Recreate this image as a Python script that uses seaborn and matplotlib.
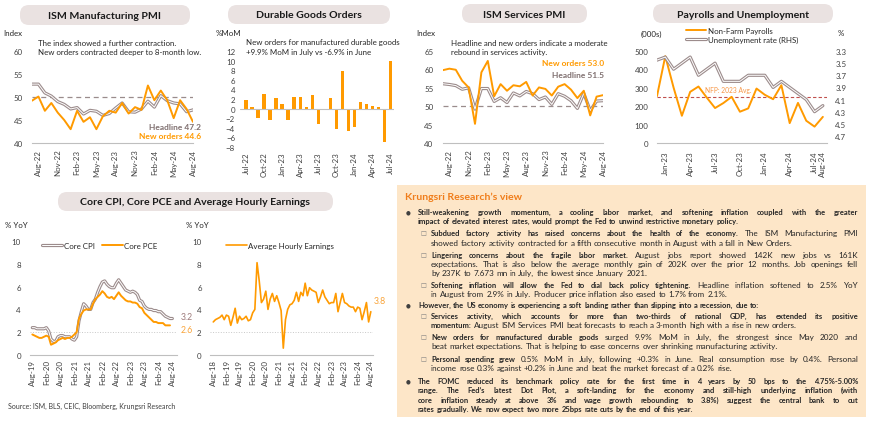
import matplotlib
matplotlib.use("Agg")
import matplotlib.pyplot as plt
import matplotlib.patheffects as pe
from matplotlib.patches import FancyBboxPatch, Rectangle
from matplotlib.font_manager import FontProperties
import numpy as np
import pandas as pd
import seaborn as sns

sns.set_theme(style="white")
plt.rcParams["font.family"] = ["Lato", "DejaVu Sans"]

# %% data
pmi_months = pd.date_range("2022-07-01", "2024-08-01", freq="MS").strftime("%b-%y").tolist()
mfg_headline = [52.8, 52.8, 50.9, 50.2, 49.0, 48.4, 47.4, 47.7, 46.3, 47.1, 46.9, 46.0, 46.4,
                47.6, 48.7, 46.8, 46.7, 47.4, 49.1, 47.8, 50.3, 49.2, 48.7, 48.5, 46.8, 47.2]
mfg_new_orders = [49.2, 50.1, 47.0, 48.7, 46.6, 45.0, 43.0, 47.0, 44.6, 45.6, 43.0, 45.8, 47.0,
                  46.6, 48.7, 46.4, 47.8, 47.2, 52.5, 49.3, 51.4, 49.3, 45.4, 49.3, 47.4, 44.6]

durable_months = pd.date_range("2022-07-01", "2024-07-01", freq="MS").strftime("%b-%y").tolist()
durable_mom = [1.7, 0.4, -1.9, 3.0, -2.4, 2.2, 1.0, -2.4, 2.5, 2.4, 0.4, 2.8, -3.2,
               -0.35, 2.2, -4.2, 7.9, -4.6, -3.9, 1.4, 1.0, 0.5, 0.35, -6.9, 9.9]

svc_new_orders = [59.8, 60.2, 59.9, 56.9, 55.1, 45.2, 59.2, 62.3, 52.7, 56.0, 54.2, 55.7, 55.4,
                  56.6, 52.9, 55.1, 54.7, 52.9, 55.3, 56.0, 54.5, 52.2, 54.2, 47.5, 52.6, 53.0]
svc_headline = [56.1, 55.9, 55.6, 54.6, 55.0, 49.2, 54.8, 54.8, 51.3, 52.3, 51.0, 53.6, 52.8,
                54.0, 53.4, 51.8, 52.5, 50.5, 53.4, 52.7, 51.5, 49.4, 53.5, 48.8, 51.4, 51.5]

nfp_months = pd.date_range("2022-12-01", "2024-08-01", freq="MS").strftime("%b-%y").tolist()
nfp = [255, 472, 301, 148, 278, 307, 247, 190, 217, 251, 170, 188, 296, 262, 238, 314,
       108, 218, 121, 89, 142]
unemployment = [3.45, 3.4, 3.6, 3.5, 3.4, 3.7, 3.6, 3.5, 3.8, 3.8, 3.8, 3.7, 3.7, 3.7,
                3.9, 3.8, 3.9, 4.0, 4.1, 4.3, 4.2]
nfp_avg_2023 = 251

core_months = pd.date_range("2019-08-01", "2024-08-01", freq="MS").strftime("%b-%y").tolist()
core_cpi = [2.4, 2.4, 2.3, 2.3, 2.3,
            2.3, 2.4, 2.1, 1.4, 1.2, 1.2, 1.6, 1.7, 1.7, 1.6, 1.6, 1.6,
            1.4, 1.3, 1.6, 3.0, 3.8, 4.5, 4.3, 4.0, 4.0, 4.6, 4.9, 5.5,
            6.0, 6.4, 6.5, 6.2, 6.0, 5.9, 5.9, 6.3, 6.6, 6.3, 6.0, 5.7,
            5.6, 5.5, 5.6, 5.5, 5.3, 4.8, 4.7, 4.3, 4.1, 4.0, 4.0, 3.9,
            3.9, 3.8, 3.8, 3.6, 3.4, 3.3, 3.2, 3.2]
core_pce = [1.8, 1.7, 1.6, 1.5, 1.5,
            1.6, 1.7, 1.6, 0.9, 1.0, 1.1, 1.3, 1.4, 1.5, 1.4, 1.5, 1.5,
            1.6, 1.8, 2.0, 3.2, 3.6, 3.9, 4.0, 4.0, 4.0, 4.5, 4.9, 5.1,
            5.3, 5.6, 5.4, 5.1, 5.0, 5.1, 4.9, 5.2, 5.5, 5.2, 5.0, 4.8,
            4.7, 4.7, 4.6, 4.6, 4.5, 4.2, 4.1, 3.7, 3.5, 3.3, 3.1, 2.9,
            2.9, 2.8, 2.8, 2.8, 2.6, 2.6, 2.6]

ahe_months = pd.date_range("2018-08-01", "2024-08-01", freq="MS").strftime("%b-%y").tolist()
ahe = [2.9, 3.1, 3.2, 3.3, 3.5,
       3.1, 3.5, 3.4, 2.6, 3.3, 4.1, 2.8, 3.4, 3.1, 3.2, 3.4, 3.0,
       3.1, 3.7, 4.0, 8.1, 6.5, 4.6, 4.9, 5.6, 4.0, 4.9, 5.4, 4.7,
       5.2, 4.6, 3.9, 0.6, 3.1, 4.0, 4.4, 4.5, 4.8, 5.5, 4.7, 5.5,
       5.2, 6.3, 5.2, 5.9, 5.7, 5.6, 5.5, 4.6, 5.1, 5.7, 5.1, 4.8,
       4.5, 4.6, 4.6, 5.4, 3.8, 4.6, 5.4, 4.6, 4.5, 4.3, 4.2, 4.2,
       3.8, 4.2, 4.1, 3.1, 3.8, 4.6, 2.9, 3.8]

# %% colours / helpers
W, H = 870, 431
ORANGE = "#FF9A00"
GREY = "#9C8C8C"
GREY_TXT = "#7F6F6F"
AX_GREY = "#BFBFBF"
TXT = "#262626"
PILL = "#EAE2E1"
BOX = "#FDE6C8"

fig = plt.figure(figsize=(8.7, 4.31), dpi=100)
bg = fig.add_axes([0, 0, 1, 1])
bg.set_xlim(0, W)
bg.set_ylim(H, 0)
bg.axis("off")
renderer = fig.canvas.get_renderer()


def width_of(text, size, weight="normal"):
    t = bg.text(0, 0, text, fontsize=size, fontweight=weight, family="Lato")
    w = t.get_window_extent(renderer).width
    t.remove()
    return w


def fit(text, width, weight="normal"):
    # font size that makes `text` about `width` pixels wide
    return 10 * width / width_of(text, 10, weight)


TICK = fit("Aug-22", 26)
NOTE = fit("The index showed a further contraction.", 138)
NOTE_B = fit("New orders 44.6", 63, "bold")
TITLE = fit("ISM Manufacturing PMI", 112, "bold")
BODY = fit("showed factory activity contracted for a fifth consecutive month in August with a fall in New Orders.", 362)
BODY_B = fit("impact of elevated interest rates, would prompt the Fed to unwind restrictive monetary policy.", 314, "bold")


def add_ax(l, t, r, b):
    ax = fig.add_axes([l / W, 1 - b / H, (r - l) / W, (b - t) / H])
    ax.set_facecolor("none")
    for s in ["top", "right", "left"]:
        ax.spines[s].set_visible(False)
    ax.spines["bottom"].set_color(AX_GREY)
    ax.spines["bottom"].set_linewidth(0.8)
    ax.tick_params(axis="both", length=0, labelsize=TICK, colors="#404040")
    return ax


def grey_line(ax, x, y):
    sns.lineplot(x=x, y=y, ax=ax, color="white", lw=0.7, legend=False,
                 path_effects=[pe.Stroke(linewidth=2.3, foreground=GREY), pe.Normal()])
    return ax.lines[-1]


def orange_line(ax, x, y, lw=1.4):
    sns.lineplot(x=x, y=y, ax=ax, color=ORANGE, lw=lw, legend=False)
    return ax.lines[-1]


def pill(x0, x1, y0, y1, text):
    bg.add_patch(FancyBboxPatch((x0, y0), x1 - x0, y1 - y0,
                                boxstyle="round,pad=0,rounding_size=9",
                                fc=PILL, ec="none"))
    bg.text((x0 + x1) / 2, (y0 + y1) / 2 + 0.5, text, ha="center", va="center",
            fontsize=TITLE, fontweight="bold", color="#1A1A1A")


def note(x, y, text, **kw):
    kw.setdefault("fontsize", NOTE)
    kw.setdefault("color", TXT)
    bg.text(x, y, text, va="center", **kw)


def month_ticks(ax, labels, pos, pad=4):
    ax.set_xticks(pos)
    ax.set_xticklabels([labels[p] for p in pos], rotation=90)
    ax.tick_params(axis="x", pad=pad)


# %% ISM Manufacturing PMI
pill(20, 190, 6, 26, "ISM Manufacturing PMI")
ax1 = add_ax(32, 52, 193, 144)
x = np.arange(len(pmi_months))
ax1.axhline(50, color="#9A8C8C", ls=(0, (4, 3)), lw=0.9)
grey_line(ax1, x, mfg_headline)
orange_line(ax1, x, mfg_new_orders)
ax1.set(xlim=(0, 25), ylim=(40, 60), xlabel="", ylabel="")
ax1.set_yticks([40, 45, 50, 55, 60])
ax1.tick_params(axis="y", pad=6.5)
month_ticks(ax1, pmi_months, range(1, 26, 3))
note(3, 34, "Index", fontsize=TICK)
note(38, 43, "The index showed a further contraction.")
note(38, 52, "New orders contracted deeper to 8-month low.")
note(201, 128, "Headline 47.2", fontsize=NOTE_B, fontweight="bold", ha="right", color=GREY_TXT)
note(201, 137, "New orders 44.6", fontsize=NOTE_B, fontweight="bold", ha="right", color=ORANGE)

# %% Durable goods
pill(228, 390, 6, 25, "Durable Goods Orders")
ax2 = add_ax(240, 52, 394, 148)
ax2.spines["bottom"].set_visible(False)
sns.barplot(x=durable_months, y=durable_mom, ax=ax2, color=ORANGE, saturation=1,
            width=0.55, linewidth=0)
ax2.axhline(0, color=AX_GREY, lw=0.8)
ax2.set(xlim=(-1, 24.6), ylim=(-8, 12), xlabel="", ylabel="")
ax2.set_yticks(range(-8, 13, 2))
ax2.tick_params(axis="y", pad=3.5)
month_ticks(ax2, durable_months, range(0, 25, 3), pad=3)
note(216, 34, "%MoM", fontsize=TICK)
note(246, 43, "New orders for manufactured durable goods")
note(246, 52, "+9.9% MoM in July vs -6.9% in June")

# %% ISM Services PMI
pill(462, 587, 5, 24, "ISM Services PMI")
ax3 = add_ax(443, 52, 603, 144)
ax3.axhline(50, color="#9A8C8C", ls=(0, (4, 3)), lw=0.9)
grey_line(ax3, x, svc_headline)
orange_line(ax3, x, svc_new_orders)
ax3.set(xlim=(0, 25), ylim=(40, 65), xlabel="", ylabel="")
ax3.set_yticks(range(40, 66, 5))
ax3.tick_params(axis="y", pad=7)
month_ticks(ax3, pmi_months, range(1, 26, 3))
note(416, 34, "Index", fontsize=TICK)
note(451, 43, "Headline and new orders indicate a moderate")
note(451, 52, "rebound in services activity.")
note(604, 64, "New orders 53.0", fontsize=NOTE_B, fontweight="bold", ha="right", color=ORANGE)
note(604, 75, "Headline 51.5", fontsize=NOTE_B, fontweight="bold", ha="right", color=GREY_TXT)

# %% Payrolls and unemployment
pill(653, 833, 5, 24, "Payrolls and Unemployment")
ax4 = add_ax(657, 52, 827, 144)
xn = np.arange(len(nfp_months))
ax4.axhline(nfp_avg_2023, color="#C0504D", ls=(0, (3, 2)), lw=0.8)
nfp_line = orange_line(ax4, xn, nfp)
ax4.set(xlim=(0, 20.5), ylim=(0, 500), xlabel="", ylabel="")
ax4.set_yticks(range(0, 501, 100))
ax4.tick_params(axis="y", pad=6)
month_ticks(ax4, nfp_months, list(range(1, 21, 3)) + [20], pad=5)
ax4r = ax4.twinx()
ax4r.set_facecolor("none")
for s in ax4r.spines.values():
    s.set_visible(False)
ur_line = grey_line(ax4r, xn, unemployment)
ax4r.set(ylim=(4.816, 3.3), ylabel="")
ur_ticks = np.arange(3.3, 4.71, 0.2)
ax4r.set_yticks(ur_ticks)
ax4r.set_yticklabels([f"{v:.1f}" for v in ur_ticks])
ax4r.tick_params(axis="y", length=0, labelsize=TICK, colors="#404040", pad=6)
note(641, 34, "(000s)", fontsize=TICK)
note(838, 34, "%", fontsize=TICK)
note(705, 90, "NFP: 2023 Avg.", fontsize=NOTE * 0.85, color="#F79646")
bg.legend([nfp_line, ur_line], ["Non-Farm Payrolls", "Unemployment rate (RHS)"],
          loc="upper left", bbox_to_anchor=(686, 28), bbox_transform=bg.transData,
          frameon=False, fontsize=NOTE, handlelength=2.6, handletextpad=0.2,
          labelspacing=0.25, borderaxespad=0, borderpad=0)

# %% Core CPI / PCE
pill(58, 333, 193, 212, "Core CPI, Core PCE and Average Hourly Earnings")
ax5 = add_ax(30, 242, 177, 356)
xc = np.arange(len(core_months))
ax5.axhline(2, color="#C8C8C8", ls=":", lw=0.7)
cpi_line = grey_line(ax5, xc, core_cpi)
pce_line = orange_line(ax5, xc[:len(core_pce)], core_pce)
ax5.set(xlim=(-1, 62), ylim=(0, 10), xlabel="", ylabel="")
ax5.set_yticks(range(0, 11, 2))
ax5.tick_params(axis="y", pad=6.5)
month_ticks(ax5, core_months, range(0, 61, 6), pad=3)
ax5.legend([cpi_line, pce_line], ["Core CPI", "Core PCE"], ncol=2, loc="upper left",
           bbox_to_anchor=(0.08, 0.99), frameon=False, fontsize=NOTE, handlelength=2.6,
           handletextpad=0.2, columnspacing=1.0, borderaxespad=0, borderpad=0)
note(5, 226, "% YoY", fontsize=TICK)
note(181, 318, "3.2", fontsize=TICK * 1.1, color="#9E7B7B")
note(181, 331, "2.6", fontsize=TICK * 1.1, color="#F9A43A")

# %% Average hourly earnings
ax6 = add_ax(210, 242, 373, 356)
xa = np.arange(len(ahe_months))
ax6.axhline(2, color="#C8C8C8", ls=":", lw=0.7)
ahe_line = orange_line(ax6, xa, ahe, lw=1.2)
ax6.set(xlim=(-1.5, 73), ylim=(0, 10), xlabel="", ylabel="")
ax6.set_yticks(range(0, 11, 2))
ax6.tick_params(axis="y", pad=6)
month_ticks(ax6, ahe_months, range(0, 73, 6), pad=3)
ax6.legend([ahe_line], ["Average Hourly Earnings"], loc="upper left",
           bbox_to_anchor=(0.1, 0.99), frameon=False, fontsize=NOTE, handlelength=2.6,
           handletextpad=0.2, borderaxespad=0, borderpad=0)
note(186, 226, "% YoY", fontsize=TICK)
note(374, 302, "3.8", fontsize=TICK * 1.1, color="#F9A43A")

note(8, 406, "Source: ISM, BLS, CEIC, Bloomberg, Krungsri Research",
     fontsize=fit("Source: ISM, BLS, CEIC, Bloomberg, Krungsri Research", 166), color="#404040")

# %% Krungsri Research's view box
bg.add_patch(Rectangle((397, 186), 469, 232, fc=BOX, ec="none", zorder=0))
note(405, 197, "Krungsri Research\u2019s view", fontweight="bold", color="#F07D1A",
     fontsize=fit("Krungsri Research\u2019s view", 117, "bold"))

RIGHT = 858


def pixel_fix(word, size, weight):
    # Agg puts each word's bitmap on whole pixels from its ink box, which makes
    # words with commas or descenders jump a pixel; work out the shift to undo it
    try:
        from matplotlib.backends.backend_agg import get_hinting_flag
        font = renderer._prepare_font(FontProperties(family="Lato", size=size, weight=weight))
        font.set_text(word, 0, flags=get_hinting_flag())
        hh = font.get_width_height()[1] / 64
        d = font.get_descent() / 64
        return np.floor(hh) - np.trunc(hh - d) - d
    except Exception:
        return 0.0


def put_line(x0, y, segs, justify=True):
    # one line of the text box, words placed one by one (justified unless last line)
    words = []
    for txt, bold in segs:
        for w in txt.split():
            words.append((w, bold))
    base = round(y + 2.4)
    arts = []
    for w, b in words:
        size, weight = (BODY_B, "bold") if b else (BODY, "normal")
        arts.append(bg.text(0, base + pixel_fix(w, size, weight), w, family="Lato",
                            color=TXT, va="baseline", ha="left",
                            fontsize=size, fontweight=weight))
    widths = [t.get_window_extent(renderer).width for t in arts]
    gap = BODY * 0.25 * 100 / 72
    if justify and len(arts) > 1:
        gap = (RIGHT - x0 - sum(widths)) / (len(arts) - 1)
    xx = x0
    for t, w in zip(arts, widths):
        t.set_x(xx)
        xx += w + gap


def bullet(y):
    bg.text(408, y, "\u25cf", fontsize=4, family=["DejaVu Sans"], ha="center", va="center", color="#404040")


def sub(y):
    bg.text(423, y, "\u25a1", fontsize=4.5, family=["DejaVu Sans"], ha="center", va="center", color="#7F7F7F")


B, N = True, False
bullet(213)
put_line(418, 213, [("Still-weakening growth momentum, a cooling labor market, and softening inflation coupled with the greater", B)])
put_line(418, 222, [("impact of elevated interest rates, would prompt the Fed to unwind restrictive monetary policy.", B)], False)
sub(234)
put_line(431, 234, [("Subdued factory activity has raised concerns about the health of the economy.", B), ("The ISM Manufacturing PMI", N)])
put_line(431, 244, [("showed factory activity contracted for a fifth consecutive month in August with a fall in New Orders.", N)], False)
sub(256)
put_line(431, 256, [("Lingering concerns about the fragile labor market.", B), ("August jobs report showed 142K new jobs vs 161K", N)])
put_line(431, 265, [("expectations. That is also below the average monthly gain of 202K over the prior 12 months. Job openings fell", N)])
put_line(431, 274, [("by 237K to 7.673 mn in July, the lowest since January 2021.", N)], False)
sub(286)
put_line(431, 286, [("Softening inflation will allow the Fed to dial back policy tightening.", B), ("Headline inflation softened to 2.5% YoY", N)])
put_line(431, 295, [("in August from 2.9% in July. Producer price inflation also eased to 1.7% from 2.1%.", N)], False)
bullet(306)
put_line(418, 306, [("However, the US economy is experiencing a soft landing rather than slipping into a recession, due to:", B)], False)
sub(317)
put_line(431, 317, [("Services activity, which accounts for more than two-thirds of national GDP, has extended its positive", B)])
put_line(431, 326, [("momentum:", B), ("August ISM Services PMI beat forecasts to reach a 3-month high with a rise in new orders.", N)], False)
sub(338)
put_line(431, 338, [("New orders for manufactured durable goods", B), ("surged 9.9% MoM in July, the strongest since May 2020 and", N)])
put_line(431, 347, [("beat market expectations. That is helping to ease concerns over shrinking manufacturing activity.", N)], False)
sub(360)
put_line(431, 360, [("Personal spending grew", B), ("0.5% MoM in July, following +0.3% in June. Real consumption rose by 0.4%. Personal", N)])
put_line(431, 369, [("income rose 0.3% against +0.2% in June and beat the market forecast of a 0.2% rise.", N)], False)
bullet(382)
put_line(418, 382, [("The FOMC reduced its benchmark policy rate for the first time in 4 years by 50 bps to the 4.75%-5.00%", B)])
put_line(418, 391, [("range. The Fed\u2019s latest Dot Plot, a soft-landing for the economy and still-high underlying inflation (with", B)])
put_line(418, 401, [("core inflation steady at above 3% and wage growth rebounding to 3.8%) suggest the central bank to cut", B)])
put_line(418, 410, [("rates gradually. We now expect two more 25bps rate cuts by the end of this year.", B)], False)

fig.savefig("out.png", dpi=100)
